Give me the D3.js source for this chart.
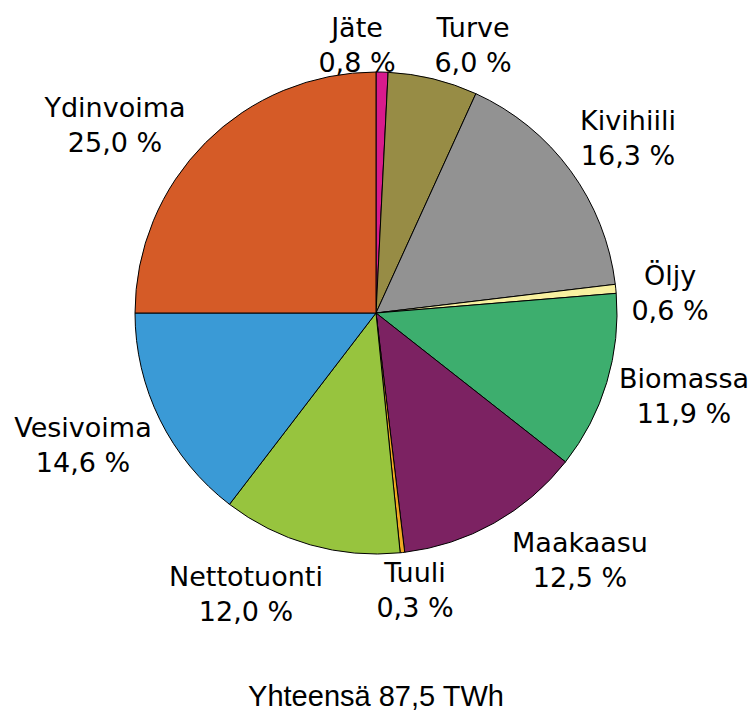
<!DOCTYPE html>
<html>
<head>
<meta charset="utf-8">
<script src="https://cdn.jsdelivr.net/npm/d3@7"></script>
<style>
  body { margin: 0; background: #fff; }
  svg { display: block; }
</style>
</head>
<body>
<svg id="chart" width="755" height="711"></svg>
<script>
// data
const categories = ['Jäte', 'Turve', 'Kivihiili', 'Öljy', 'Biomassa', 'Maakaasu', 'Tuuli', 'Nettotuonti', 'Vesivoima', 'Ydinvoima'];
const shares = [0.8, 6.0, 16.3, 0.6, 11.9, 12.5, 0.3, 12.0, 14.6, 25.0];
const total = 'Yhteensä 87,5 TWh';

// styles
const colors = ['#d81b8c', '#978c45', '#929292', '#f8f1a0', '#3dae6e', '#7c2262', '#f0a823', '#97c43e', '#3a9ad6', '#d55b27'];
// label anchor (centre x, first baseline y), placed by hand like the original
const labelAt = {
  'Jäte': [357, 37], 'Turve': [473, 37], 'Kivihiili': [628, 130], 'Öljy': [670, 285],
  'Biomassa': [684, 388], 'Maakaasu': [580, 552], 'Tuuli': [415, 582],
  'Nettotuonti': [246, 586], 'Vesivoima': [83, 437], 'Ydinvoima': [115, 117]
};

const svg = d3.select('#chart');
const cx = 376, cy = 313, radius = 241;
const fmt = v => d3.format('.1f')(v).replace('.', ',') + ' %';

const data = categories.map((c, i) => ({ name: c, value: shares[i], color: colors[i] }));

const pie = d3.pie().value(d => d.value).sort(null);
const arc = d3.arc().innerRadius(0).outerRadius(radius);

const g = svg.append('g')
    .attr('transform', 'translate(' + cx + ',' + cy + ')');

g.selectAll('path')
    .data(pie(data))
    .enter()
    .append('path')
    .attr('d', arc)
    .attr('fill', d => d.data.color)
    .attr('stroke', '#000')
    .attr('stroke-width', 1);

// labels
const labels = svg.selectAll('.lbl')
    .data(data)
    .enter()
    .append('text')
    .attr('class', 'lbl')
    .attr('text-anchor', 'middle')
    .style('font-family', 'Verdana, "DejaVu Sans", sans-serif')
    .style('font-size', '27px')
    .attr('fill', '#000');

labels.append('tspan')
    .attr('x', d => labelAt[d.name][0])
    .attr('y', d => labelAt[d.name][1])
    .text(d => d.name);

labels.append('tspan')
    .attr('x', d => labelAt[d.name][0])
    .attr('y', d => labelAt[d.name][1] + 35)
    .text(d => fmt(d.value));

// total
svg.append('text')
    .attr('x', 376)
    .attr('y', 706)
    .attr('text-anchor', 'middle')
    .style('font-family', 'Arial, "Liberation Sans", sans-serif')
    .style('font-size', '29px')
    .text(total);
</script>
</body>
</html>
